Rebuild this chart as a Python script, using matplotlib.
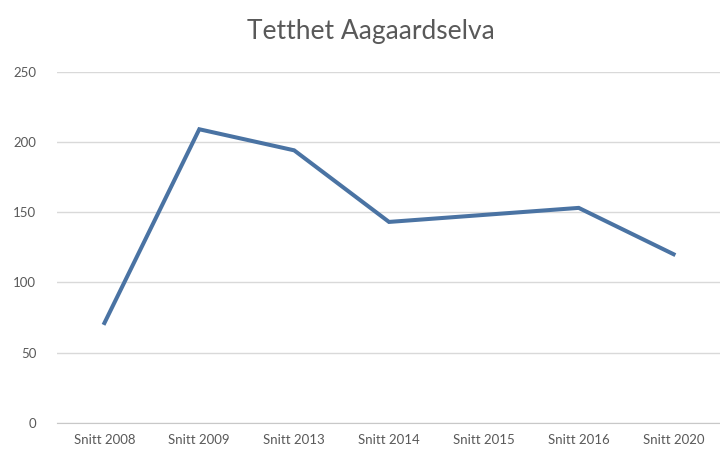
import matplotlib.pyplot as plt

# snitt tetthet per år
aar = ["Snitt 2008", "Snitt 2009", "Snitt 2013", "Snitt 2014",
       "Snitt 2015", "Snitt 2016", "Snitt 2020"]
tetthet = [71, 209, 194, 143, 148, 153, 120]
yticks = [0, 50, 100, 150, 200, 250]

plt.rcParams['font.family'] = ['Lato', 'DejaVu Sans']

fig = plt.figure(figsize=(7.2, 4.54), dpi=100)
ax = fig.add_axes([57 / 720, 1 - 422.7 / 454, 664 / 720, 351 / 454])

x = list(range(len(aar)))
ax.plot(x, tetthet, color='#4a73a3', linewidth=2.9, solid_joinstyle='miter')

ax.set_xlim(-0.5, len(aar) - 0.5)
ax.set_ylim(0, 250)
ax.set_yticks(yticks)
ax.set_xticks(x)
ax.set_xticklabels(aar)
ax.grid(axis='y', color='#d9d9d9', linewidth=1)
ax.set_axisbelow(True)
for s in ['top', 'right', 'left']:
    ax.spines[s].set_visible(False)
ax.spines['bottom'].set_color('#c8c8c8')
ax.tick_params(axis='both', length=0, colors='#595959', labelsize=9.5)
ax.tick_params(axis='y', pad=15)
ax.tick_params(axis='x', pad=8)

fig.text(0.515, 1 - 32 / 454, "Tetthet Aagaardselva", ha='center', va='center',
         fontsize=19, color='#595959')

fig.savefig("out.png", dpi=100)
